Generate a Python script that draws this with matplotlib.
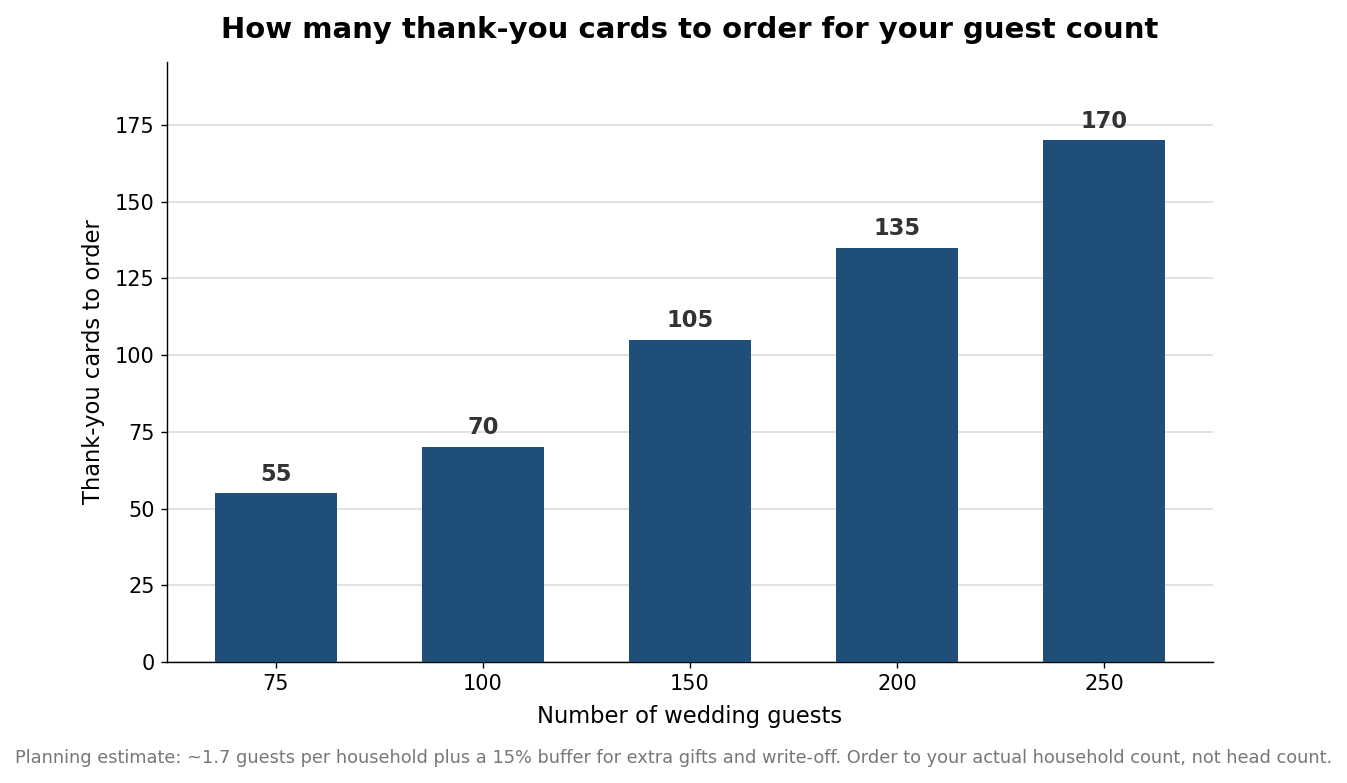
import matplotlib
matplotlib.use("Agg")
import matplotlib.pyplot as plt
import numpy as np

plt.rcParams["font.family"] = ["DejaVu Sans"]

guests = ["75", "100", "150", "200", "250"]
cards = [55, 70, 105, 135, 170]

fig = plt.figure(figsize=(1347 / 125, 783 / 125), dpi=125)
ax = fig.add_axes([167 / 1347, 1 - 662 / 783, (1213 - 167) / 1347, (662 - 62) / 783])

x = np.arange(len(guests))
bars = ax.bar(x, cards, width=0.59, color="#1f4e79", zorder=3)

for b, v in zip(bars, cards):
    ax.text(b.get_x() + b.get_width() / 2, v + 2.5, str(v), ha="center", va="bottom",
            fontsize=13, fontweight="bold", color="#333333")

ax.set_xticks(x)
ax.set_xticklabels(guests)
ax.set_ylim(0, 195.5)
ax.set_yticks(np.arange(0, 176, 25))
ax.tick_params(labelsize=12)
ax.yaxis.grid(True, color="#dddddd", linewidth=1, zorder=0)
ax.set_axisbelow(True)
ax.spines["top"].set_visible(False)
ax.spines["right"].set_visible(False)

ax.set_xlabel("Number of wedding guests", fontsize=13, labelpad=6.5)
ax.set_ylabel("Thank-you cards to order", fontsize=13, labelpad=6)
ax.set_title("How many thank-you cards to order for your guest count",
             fontsize=16.8, fontweight="bold", pad=14)

fig.text(15 / 1347, 25 / 783, "Planning estimate: ~1.7 guests per household plus a 15% buffer for extra gifts "
         "and write-off. Order to your actual household count, not head count.",
         ha="left", va="center", fontsize=10.2, color="#777777")

fig.savefig("out.png", dpi=125)
